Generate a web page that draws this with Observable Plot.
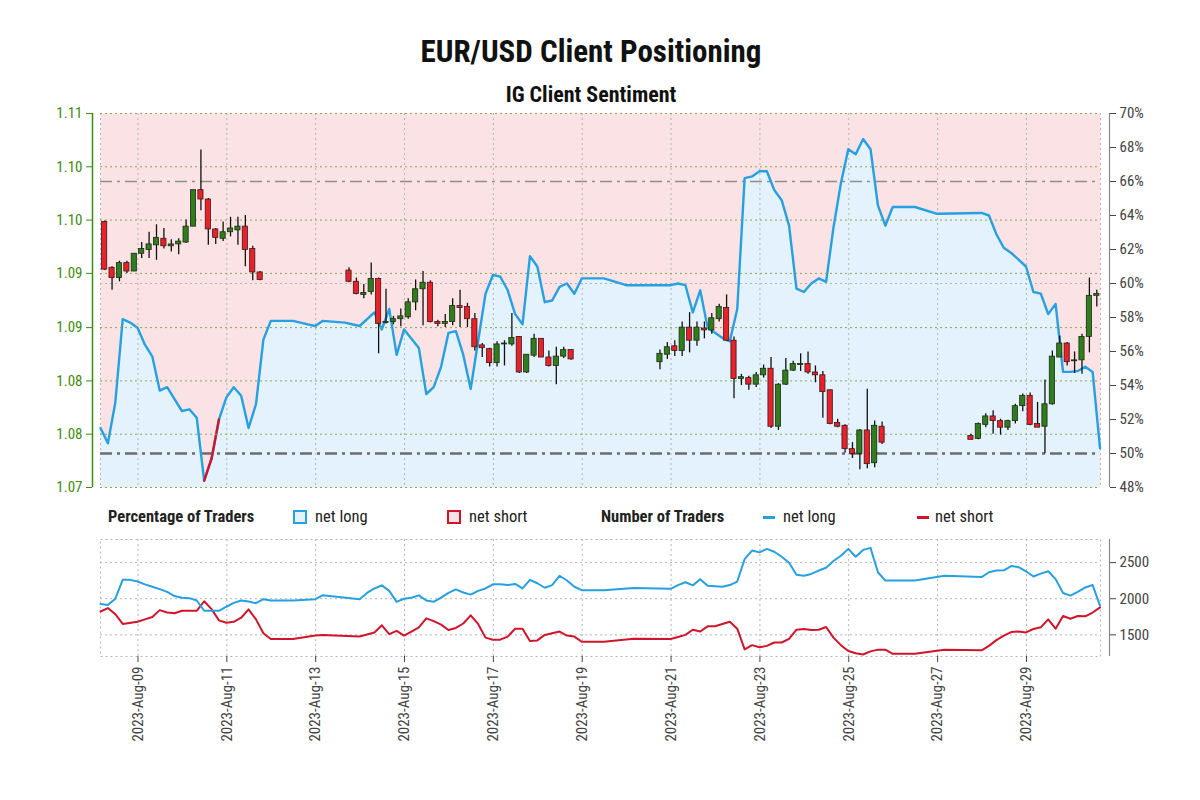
<!DOCTYPE html>
<html><head><meta charset="utf-8">
<script src="https://cdn.jsdelivr.net/npm/d3@7"></script>
<script src="https://cdn.jsdelivr.net/npm/@observablehq/plot@0.6"></script>
<style>
body{margin:0;background:#fff;}
#wrap{position:relative;width:1200px;height:800px;overflow:hidden;font-family:"Liberation Sans Narrow","Roboto Condensed",Roboto,sans-serif;color:#222;}
.abs{position:absolute;white-space:nowrap;}
#title{top:33px;left:0;width:1182px;text-align:center;font-size:31px;font-weight:bold;color:#111;}
#subtitle{top:82px;left:0;width:1182px;text-align:center;font-size:22px;font-weight:bold;color:#111;}
.lg{top:507px;font-size:16.5px;line-height:20px;}
.lgb{font-weight:bold;}
.sq{position:absolute;top:510px;width:10px;height:10px;}
.dash{position:absolute;top:516px;width:12px;height:3px;}
</style></head>
<body><div id="wrap">
<div id="title" class="abs">EUR/USD Client Positioning</div>
<div id="subtitle" class="abs">IG Client Sentiment</div>
<div id="layer1" class="abs" style="left:0;top:100px"></div>
<div id="layer2" class="abs" style="left:0;top:100px"></div>
<div class="abs lg lgb" style="left:108px">Percentage of Traders</div>
<div class="sq" style="left:293px;border:2px solid #26a0e0;background:#e3f2fc"></div>
<div class="abs lg" style="left:315px">net long</div>
<div class="sq" style="left:447px;border:2px solid #d0152a;background:#fbe3e5"></div>
<div class="abs lg" style="left:469px">net short</div>
<div class="abs lg lgb" style="left:601px">Number of Traders</div>
<div class="dash" style="left:763px;background:#26a0e0"></div>
<div class="abs lg" style="left:783px">net long</div>
<div class="dash" style="left:917px;background:#d0152a"></div>
<div class="abs lg" style="left:935px">net short</div>
<div id="layer3" class="abs" style="left:0;top:530px"></div>
</div>
<script>
// ---------- data ----------
const xStart = "08 03:45", xEnd = "30 16:00";
const dateTickDays = ["09","11","13","15","17","19","21","23","25","27","29"];
const priceTicks = [1.07, 1.0757, 1.0814, 1.0871, 1.0929, 1.0986, 1.1043, 1.11];
const pctTicks = [48,50,52,54,56,58,60,62,64,66,68,70];
const traderTicks = [1500, 2000, 2500];

// 4-hour candles EUR/USD: [time, open, high, low, close]
const candles = [
["08 06:00",1.0984,1.0985,1.0932,1.0933],["08 10:00",1.0935,1.0936,1.0911,1.0924],
["08 14:00",1.0924,1.0942,1.0920,1.0940],["08 18:00",1.0940,1.0942,1.0929,1.0931],
["08 22:00",1.0931,1.0950,1.0931,1.0950],["09 02:00",1.0950,1.0962,1.0945,1.0955],
["09 06:00",1.0954,1.0973,1.0945,1.0960],["09 10:00",1.0959,1.0981,1.0943,1.0967],
["09 14:00",1.0966,1.0977,1.0955,1.0958],["09 18:00",1.0958,1.0965,1.0952,1.0960],
["09 22:00",1.0960,1.0966,1.0949,1.0963],["10 02:00",1.0962,1.0986,1.0961,1.0979],
["10 06:00",1.0979,1.1018,1.0979,1.1018],["10 10:00",1.1018,1.1061,1.0996,1.1008],
["10 14:00",1.1008,1.1009,1.0959,1.0976],["10 18:00",1.0976,1.0977,1.0960,1.0967],
["10 22:00",1.0966,1.0984,1.0963,1.0973],["11 02:00",1.0973,1.0989,1.0968,1.0977],
["11 06:00",1.0975,1.0989,1.0959,1.0979],["11 10:00",1.0979,1.0991,1.0936,1.0954],
["11 14:00",1.0955,1.0958,1.0921,1.0930],["11 18:00",1.0930,1.0931,1.0921,1.0922],
["13 18:00",1.0932,1.0935,1.0919,1.0920],["13 22:00",1.0920,1.0924,1.0906,1.0907],
["14 02:00",1.0906,1.0917,1.0902,1.0908],["14 06:00",1.0909,1.0940,1.0906,1.0923],
["14 10:00",1.0923,1.0924,1.0843,1.0875],["14 14:00",1.0876,1.0912,1.0875,1.0877],
["14 18:00",1.0877,1.0883,1.0874,1.0880],["14 22:00",1.0880,1.0891,1.0872,1.0883],
["15 02:00",1.0882,1.0902,1.0880,1.0898],["15 06:00",1.0898,1.0922,1.0889,1.0912],
["15 10:00",1.0912,1.0931,1.0873,1.0919],["15 14:00",1.0919,1.0921,1.0876,1.0877],
["15 18:00",1.0877,1.0879,1.0872,1.0875],["15 22:00",1.0875,1.0885,1.0871,1.0877],
["16 02:00",1.0877,1.0902,1.0873,1.0894],["16 06:00",1.0894,1.0911,1.0871,1.0892],
["16 10:00",1.0893,1.0897,1.0871,1.0880],["16 14:00",1.0880,1.0886,1.0846,1.0850],
["16 18:00",1.0852,1.0854,1.0839,1.0849],["16 22:00",1.0848,1.0849,1.0829,1.0833],
["17 02:00",1.0833,1.0856,1.0829,1.0853],["17 06:00",1.0853,1.0857,1.0830,1.0854],
["17 10:00",1.0853,1.0886,1.0851,1.0860],["17 14:00",1.0861,1.0861,1.0822,1.0823],
["17 18:00",1.0823,1.0842,1.0822,1.0842],["17 22:00",1.0841,1.0864,1.0839,1.0859],
["18 02:00",1.0859,1.0859,1.0839,1.0839],["18 06:00",1.0839,1.0846,1.0829,1.0830],
["18 10:00",1.0830,1.0850,1.0810,1.0840],["18 14:00",1.0840,1.0850,1.0838,1.0847],
["18 18:00",1.0847,1.0847,1.0836,1.0837],
["20 18:00",1.0834,1.0847,1.0826,1.0843],["20 22:00",1.0842,1.0855,1.0837,1.0850],
["21 02:00",1.0851,1.0857,1.0840,1.0846],["21 06:00",1.0846,1.0877,1.0840,1.0871],
["21 10:00",1.0871,1.0887,1.0844,1.0857],["21 14:00",1.0857,1.0877,1.0851,1.0871],
["21 18:00",1.0870,1.0877,1.0859,1.0868],["21 22:00",1.0868,1.0886,1.0864,1.0881],
["22 02:00",1.0880,1.0896,1.0877,1.0893],["22 06:00",1.0892,1.0906,1.0856,1.0857],
["22 10:00",1.0857,1.0861,1.0795,1.0816],["22 14:00",1.0816,1.0821,1.0809,1.0818],
["22 18:00",1.0817,1.0819,1.0804,1.0810],["22 22:00",1.0810,1.0823,1.0807,1.0820],
["23 02:00",1.0820,1.0831,1.0817,1.0827],["23 06:00",1.0827,1.0839,1.0763,1.0765],
["23 10:00",1.0765,1.0811,1.0761,1.0810],["23 14:00",1.0810,1.0838,1.0809,1.0825],
["23 18:00",1.0825,1.0835,1.0824,1.0832],["23 22:00",1.0831,1.0843,1.0824,1.0832],
["24 02:00",1.0832,1.0845,1.0821,1.0823],["24 06:00",1.0823,1.0830,1.0812,1.0820],
["24 10:00",1.0820,1.0824,1.0774,1.0802],["24 14:00",1.0804,1.0804,1.0767,1.0768],
["24 18:00",1.0769,1.0773,1.0764,1.0765],["24 22:00",1.0766,1.0767,1.0737,1.0741],
["25 02:00",1.0741,1.0748,1.0731,1.0736],["25 06:00",1.0736,1.0762,1.0719,1.0761],
["25 10:00",1.0761,1.0805,1.0720,1.0725],["25 14:00",1.0726,1.0771,1.0721,1.0766],
["25 18:00",1.0765,1.0770,1.0746,1.0748],
["27 18:00",1.0755,1.0757,1.0751,1.0751],["27 22:00",1.0752,1.0769,1.0751,1.0768],
["28 02:00",1.0767,1.0779,1.0764,1.0776],["28 06:00",1.0776,1.0782,1.0757,1.0771],
["28 10:00",1.0771,1.0773,1.0756,1.0764],["28 14:00",1.0764,1.0772,1.0761,1.0771],
["28 18:00",1.0771,1.0789,1.0768,1.0787],["28 22:00",1.0787,1.0800,1.0781,1.0798],
["29 02:00",1.0798,1.0801,1.0766,1.0767],["29 06:00",1.0768,1.0791,1.0764,1.0764],
["29 10:00",1.0765,1.0815,1.0736,1.0789],["29 14:00",1.0789,1.0846,1.0788,1.0840],
["29 18:00",1.0839,1.0862,1.0839,1.0854],["29 22:00",1.0854,1.0855,1.0830,1.0834],
["30 02:00",1.0835,1.0845,1.0822,1.0836],["30 06:00",1.0836,1.0864,1.0821,1.0861],
["30 10:00",1.0861,1.0924,1.0844,1.0905],["30 14:00",1.0905,1.0911,1.0893,1.0907]
];

// percentage of traders net long
const pctLong = [
["08 03:45",51.5],["08 07:45",50.6],["08 11:45",53.0],["08 15:45",57.9],["08 19:45",57.7],["08 23:45",57.4],
["09 03:45",56.4],["09 07:45",55.7],["09 11:45",53.7],["09 15:45",53.9],["09 19:45",53.2],["09 23:45",52.5],
["10 03:45",52.6],["10 07:45",52.1],["10 11:45",48.4],["10 15:45",49.7],["10 19:45",52.0],["10 23:45",53.3],
["11 03:45",53.9],["11 07:45",53.4],["11 11:45",51.5],["11 15:45",52.9],["11 19:45",56.7],["11 23:45",57.8],
["12 11:45",57.8],["12 19:45",57.6],["12 23:45",57.5],["13 03:45",57.8],["13 15:45",57.7],["13 23:45",57.5],
["14 07:45",58.3],["14 11:45",57.3],["14 15:45",58.5],["14 19:45",55.8],["14 23:45",57.3],
["15 07:45",56.2],["15 11:45",53.5],["15 15:45",53.9],["15 19:45",55.1],["15 23:45",57.1],
["16 03:45",57.2],["16 07:45",55.8],["16 11:45",53.8],["16 15:45",56.6],["16 19:45",59.4],["16 23:45",60.5],
["17 03:45",60.4],["17 07:45",59.6],["17 11:45",58.2],["17 15:45",57.6],["17 19:45",61.6],["17 23:45",61.0],
["18 03:45",58.9],["18 07:45",59.0],["18 11:45",59.8],["18 15:45",60.0],["18 19:45",59.4],["18 23:45",60.3],
["19 11:45",60.3],["19 23:45",59.9],["20 23:45",59.9],
["21 03:45",60.0],["21 07:45",59.9],["21 11:45",58.3],["21 15:45",59.6],["21 19:45",57.4],["21 23:45",57.1],
["22 03:45",56.8],["22 07:45",56.6],["22 11:45",58.5],["22 15:45",66.2],["22 19:45",66.3],["22 23:45",66.6],
["23 03:45",66.6],["23 07:45",65.5],["23 11:45",64.9],["23 15:45",63.4],["23 19:45",59.7],["23 23:45",59.5],
["24 03:45",60.0],["24 07:45",60.3],["24 11:45",60.1],["24 15:45",63.3],["24 19:45",65.9],["24 23:45",67.9],
["25 03:45",67.6],["25 07:45",68.5],["25 11:45",67.9],["25 15:45",64.6],["25 19:45",63.4],["25 23:45",64.5],
["26 11:45",64.5],["26 23:45",64.1],["27 23:45",64.15],
["28 03:45",64.0],["28 07:45",62.9],["28 11:45",62.1],["28 15:45",61.8],["28 23:45",61.0],
["29 03:45",59.5],["29 07:45",59.4],["29 11:45",58.2],["29 15:45",58.8],["29 19:45",54.8],["29 23:45",54.8],
["30 03:45",54.85],["30 07:45",55.1],["30 11:45",54.8],["30 15:45",50.3]
];

// number of traders net long
const longTraders = [
["08 03:45",1928],["08 07:45",1914],["08 11:45",2000],["08 15:45",2261],["08 19:45",2261],["08 23:45",2238],
["09 03:45",2199],["09 07:45",2166],["09 11:45",2133],["09 15:45",2094],["09 19:45",2037],["09 23:45",2014],
["10 03:45",2008],["10 07:45",1975],["10 11:45",1833],["10 15:45",1833],["10 19:45",1833],["10 23:45",1889],
["11 03:45",1942],["11 07:45",1975],["11 11:45",1961],["11 15:45",1938],["11 19:45",1994],["11 23:45",1975],
["12 11:45",1975],["12 23:45",1994],["13 03:45",2047],["13 23:45",1994],
["14 03:45",2080],["14 07:45",2142],["14 11:45",2185],["14 15:45",2109],["14 19:45",1957],["14 23:45",2000],
["15 03:45",2014],["15 07:45",2047],["15 11:45",1975],["15 15:45",1957],["15 19:45",2014],["15 23:45",2080],
["16 03:45",2129],["16 07:45",2086],["16 11:45",2057],["16 15:45",2109],["16 19:45",2142],["16 23:45",2199],
["17 03:45",2199],["17 07:45",2189],["17 11:45",2205],["17 15:45",2142],["17 19:45",2261],["17 23:45",2214],
["18 03:45",2152],["18 07:45",2189],["18 11:45",2318],["18 15:45",2252],["18 19:45",2166],["18 23:45",2119],
["19 11:45",2119],["20 03:45",2150],["20 23:45",2137],
["21 03:45",2189],["21 07:45",2228],["21 11:45",2185],["21 15:45",2271],["21 19:45",2180],
["22 03:45",2166],["22 07:45",2189],["22 11:45",2238],["22 15:45",2548],["22 19:45",2667],["22 23:45",2642],
["23 03:45",2690],["23 07:45",2651],["23 11:45",2581],["23 15:45",2499],["23 19:45",2333],["23 23:45",2318],
["24 03:45",2343],["24 07:45",2390],["24 11:45",2429],["24 15:45",2523],["24 19:45",2595],["24 23:45",2690],
["25 03:45",2581],["25 07:45",2676],["25 11:45",2704],["25 15:45",2367],["25 19:45",2252],
["26 11:45",2252],["27 03:45",2318],["27 23:45",2300],
["28 03:45",2367],["28 07:45",2390],["28 11:45",2394],["28 15:45",2452],["28 19:45",2437],["28 23:45",2380],
["29 03:45",2308],["29 07:45",2347],["29 11:45",2380],["29 15:45",2271],["29 19:45",2080],["29 23:45",2043],
["30 03:45",2094],["30 07:45",2156],["30 11:45",2189],["30 15:45",1905]
];

// number of traders net short
const shortTraders = [
["08 03:45",1823],["08 07:45",1871],["08 11:45",1786],["08 15:45",1651],["08 23:45",1681],
["09 03:45",1714],["09 07:45",1747],["09 11:45",1842],["09 15:45",1809],["09 19:45",1799],["09 23:45",1833],
["10 07:45",1833],["10 11:45",1965],["10 15:45",1856],["10 19:45",1700],["10 23:45",1667],
["11 03:45",1681],["11 07:45",1737],["11 11:45",1852],["11 15:45",1714],["11 19:45",1523],["11 23:45",1443],
["12 11:45",1443],["12 23:45",1490],["13 03:45",1499],["13 23:45",1476],
["14 07:45",1533],["14 11:45",1632],["14 15:45",1509],["14 19:45",1556],["14 23:45",1490],
["15 03:45",1546],["15 07:45",1604],["15 11:45",1728],["15 15:45",1690],["15 19:45",1642],["15 23:45",1566],
["16 03:45",1595],["16 07:45",1657],["16 11:45",1770],["16 15:45",1651],["16 19:45",1461],["16 23:45",1433],
["17 03:45",1433],["17 07:45",1476],["17 11:45",1585],["17 15:45",1585],["17 19:45",1414],["17 23:45",1423],
["18 03:45",1499],["18 07:45",1523],["18 11:45",1546],["18 15:45",1490],["18 19:45",1476],["18 23:45",1404],
["19 11:45",1404],["20 03:45",1445],["20 23:45",1443],
["21 03:45",1471],["21 07:45",1499],["21 11:45",1571],["21 15:45",1546],["21 19:45",1618],["21 23:45",1618],
["22 03:45",1651],["22 07:45",1681],["22 11:45",1585],["22 15:45",1299],["22 19:45",1357],["22 23:45",1328],
["23 03:45",1347],["23 07:45",1394],["23 11:45",1394],["23 15:45",1443],["23 19:45",1571],["23 23:45",1581],
["24 03:45",1566],["24 07:45",1571],["24 11:45",1609],["24 15:45",1461],["24 19:45",1357],["24 23:45",1275],
["25 03:45",1246],["25 07:45",1228],["25 11:45",1271],["25 15:45",1295],["25 19:45",1295],["25 23:45",1238],
["26 11:45",1238],["27 03:45",1295],["27 23:45",1285],
["28 03:45",1347],["28 07:45",1427],["28 11:45",1490],["28 15:45",1538],["28 19:45",1546],["28 23:45",1533],
["29 03:45",1581],["29 07:45",1604],["29 11:45",1714],["29 15:45",1585],["29 19:45",1761],["29 23:45",1723],
["30 03:45",1761],["30 07:45",1757],["30 11:45",1809],["30 15:45",1881]
];

// ---------- helpers ----------
const T = s => new Date(Date.UTC(2023, 7, +s.slice(0,2), +s.slice(3,5), +s.slice(6,8)));
const xDomain = [T(xStart), T(xEnd)];
const dateTicks = dateTickDays.map(d => T(d + " 00:00"));
const HALF = 1.4 * 3600 * 1000;
const C = candles.map(([t,o,h,l,c]) => ({t: T(t), o, h, l, c}));
const P = pctLong.map(([t,v]) => ({t: T(t), v}));
const LN = longTraders.map(([t,v]) => ({t: T(t), v}));
const SN = shortTraders.map(([t,v]) => ({t: T(t), v}));
const redSegs = [];
for (let i = 0; i < P.length - 1; i++) if (P[i].v < 50) redSegs.push({a: P[i], b: P[i+1]});

const FONT = '"Liberation Sans Narrow","Roboto Condensed",Roboto,sans-serif';
const BLUE = "#26a0e0", RED = "#d0152a", PINK = "#fbe3e5", LBLUE = "#e3f2fc";
const CGREEN = "#2f7d1c", CRED = "#e8212a", AXGREEN = "#3f8c10";
const GRAY_DOT = {stroke: "#b4b4b4", strokeDasharray: "2,3"};

const common = {
  width: 1200, marginLeft: 100, marginRight: 100,
  x: {type: "utc", domain: xDomain, axis: null},
  style: {background: "transparent", fontFamily: FONT, fontSize: "15px"}
};

// layer 1: percentage background, area, line, right axis
const p1 = Plot.plot({
  ...common, height: 400, marginTop: 13, marginBottom: 13,
  y: {domain: [48, 70], axis: null},
  marks: [
    Plot.frame({fill: PINK, stroke: "none"}),
    Plot.areaY(P, {x: "t", y1: 48, y2: "v", fill: LBLUE}),
    Plot.ruleX(dateTicks, GRAY_DOT),
    Plot.ruleX(xDomain, GRAY_DOT),
    Plot.ruleY([60], GRAY_DOT),
    Plot.ruleY([66], {stroke: "#8e8e8e", strokeWidth: 1.5, strokeDasharray: "12,5,3,5"}),
    Plot.ruleY([50], {stroke: "#6c6c6c", strokeWidth: 2.6, strokeDasharray: "12,5,3,5"}),
    Plot.lineY(P, {x: "t", y: "v", stroke: BLUE, strokeWidth: 2.4}),
    Plot.link(redSegs, {x1: d => d.a.t, y1: d => d.a.v, x2: d => d.b.t, y2: d => d.b.v, stroke: RED, strokeWidth: 2.4, strokeLinecap: "round"}),
    Plot.axisY({anchor: "right", ticks: pctTicks, tickFormat: d => d + "%", dx: 9, tickSize: 6, tickPadding: 4, color: "#444", label: null}),
    Plot.ruleX([xDomain[1]], {dx: 9, stroke: "#888", strokeWidth: 1.2})
  ]
});
document.getElementById("layer1").appendChild(p1);

// layer 2: price grid, candles, left axis
const p2 = Plot.plot({
  ...common, height: 400, marginTop: 13, marginBottom: 13,
  y: {domain: [1.07, 1.11], axis: null},
  marks: [
    Plot.ruleY(priceTicks, {stroke: "#86a955", strokeDasharray: "2,3"}),
    Plot.ruleX(C, {x: "t", y1: "l", y2: "h", stroke: "#111", strokeWidth: 1.3}),
    Plot.rect(C.filter(d => d.c >= d.o), {x1: d => new Date(+d.t - HALF), x2: d => new Date(+d.t + HALF), y1: "o", y2: "c", fill: CGREEN, stroke: "#1d2a14", strokeWidth: 0.8}),
    Plot.rect(C.filter(d => d.c < d.o), {x1: d => new Date(+d.t - HALF), x2: d => new Date(+d.t + HALF), y1: "o", y2: "c", fill: CRED, stroke: "#3a1a1a", strokeWidth: 0.8}),
    Plot.axisY({anchor: "left", ticks: priceTicks, tickFormat: d3.format(".2f"), dx: -8, tickSize: 6, tickPadding: 4, color: AXGREEN, label: null}),
    Plot.ruleX([xDomain[0]], {dx: -8, stroke: AXGREEN, strokeWidth: 1.5})
  ]
});
document.getElementById("layer2").appendChild(p2);

// layer 3: number of traders
const p3 = Plot.plot({
  ...common, height: 226, marginTop: 9, marginBottom: 100,
  y: {domain: [1200, 2820], axis: null},
  marks: [
    Plot.ruleY(traderTicks, GRAY_DOT),
    Plot.ruleX(dateTicks, GRAY_DOT),
    Plot.frame({stroke: "#b4b4b4", strokeDasharray: "2,3"}),
    Plot.lineY(SN, {x: "t", y: "v", stroke: RED, strokeWidth: 2}),
    Plot.lineY(LN, {x: "t", y: "v", stroke: BLUE, strokeWidth: 2}),
    Plot.axisY({anchor: "right", ticks: traderTicks, tickFormat: d => String(d), dx: 9, tickSize: 6, tickPadding: 4, color: "#444", label: null}),
    Plot.ruleX([xDomain[1]], {dx: 9, stroke: "#888", strokeWidth: 1.2}),
    Plot.axisX({anchor: "bottom", ticks: dateTicks, tickFormat: d3.utcFormat("%Y-%b-%d"), tickRotate: -90, tickSize: 6, tickPadding: 4, color: "#444", label: null})
  ]
});
document.getElementById("layer3").appendChild(p3);
</script>
</body></html>
